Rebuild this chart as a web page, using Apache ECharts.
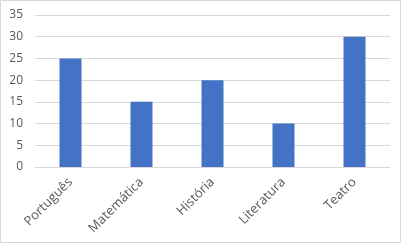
<!DOCTYPE html>
<html><head><meta charset="utf-8">
<script src="https://cdn.jsdelivr.net/npm/echarts@6/dist/echarts.min.js"></script>
<style>html,body{margin:0;padding:0;background:#fff}#c{width:404px;height:244px}</style>
</head><body><div id="c"></div>
<script>
const categories = ["Português", "Matemática", "História", "Literatura", "Teatro"];
const values = [25, 15, 20, 10, 30];
const yTicks = { min: 0, max: 35, interval: 5 };

const chart = echarts.init(document.getElementById('c'), null, { renderer: 'canvas' });
chart.setOption({
  animation: false,
  backgroundColor: '#fff',
  graphic: [{
    type: 'rect', shape: { x: 0.5, y: 0.5, width: 400, height: 242 },
    style: { fill: 'none', stroke: '#d9d9d9', lineWidth: 1 }, silent: true, z: -1
  }],
  grid: { left: 35, right: 14, top: 15, bottom: 77, containLabel: false },
  xAxis: {
    type: 'category', data: categories,
    axisLine: { lineStyle: { color: '#d9d9d9' } },
    axisTick: { show: false },
    axisLabel: { rotate: 45, color: '#595959', fontFamily: 'Open Sans, Liberation Sans, sans-serif', fontSize: 13, margin: 13, interval: 0 }
  },
  yAxis: {
    type: 'value', min: yTicks.min, max: yTicks.max, interval: yTicks.interval,
    axisLine: { show: false }, axisTick: { show: false },
    axisLabel: { color: '#595959', fontFamily: 'Open Sans, Liberation Sans, sans-serif', fontSize: 12, margin: 12 },
    splitLine: { lineStyle: { color: '#d9d9d9', width: 1 } }
  },
  series: [{
    type: 'bar', data: values, barWidth: '31%',
    itemStyle: { color: '#4472C4' }
  }]
});
</script></body></html>
